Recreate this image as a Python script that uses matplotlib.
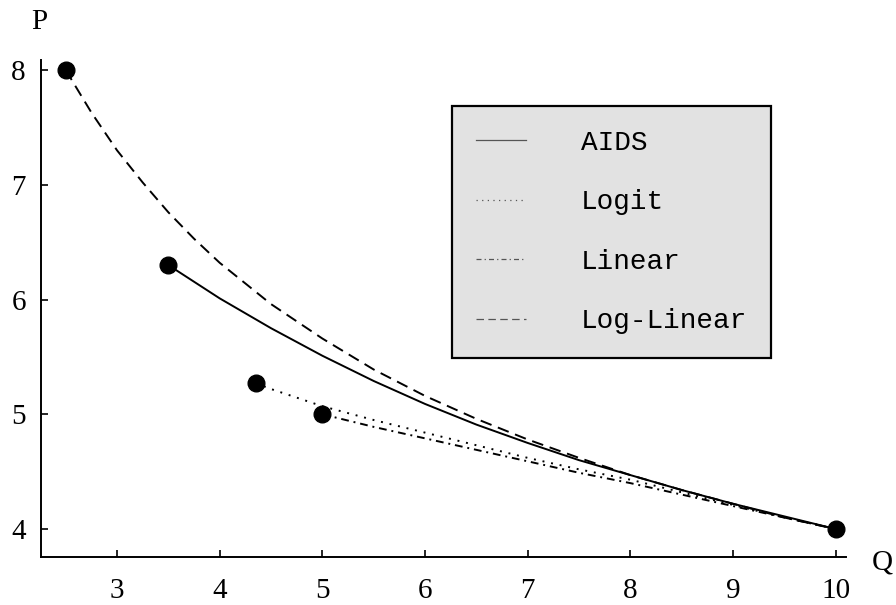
import matplotlib.pyplot as plt

# points
pt_q = [2.5, 3.5, 4.35, 5.0, 10.0]
pt_p = [8.0, 6.3, 5.27, 5.0, 4.0]

# curves (read at regular Q steps)
q_loglin = [2.5, 2.75, 3.0, 3.25, 3.5, 3.75, 4.0, 4.25, 4.5, 5.0, 5.5, 6.0, 6.5, 7.0, 7.5, 8.0, 8.5, 9.0, 9.5, 10.0]
p_loglin = [8.0, 7.63, 7.30, 7.02, 6.76, 6.53, 6.32, 6.14, 5.96, 5.66, 5.39, 5.16, 4.96, 4.78, 4.62, 4.47, 4.34, 4.22, 4.10, 4.0]

q_aids = [3.5, 4.0, 4.5, 5.0, 5.5, 6.0, 6.5, 7.0, 7.5, 8.0, 8.5, 9.0, 9.5, 10.0]
p_aids = [6.30, 6.01, 5.75, 5.51, 5.29, 5.09, 4.91, 4.75, 4.60, 4.47, 4.34, 4.22, 4.11, 4.0]

q_logit = [4.35, 4.5, 5.0, 5.5, 6.0, 6.5, 7.0, 7.5, 8.0, 8.5, 9.0, 9.5, 10.0]
p_logit = [5.27, 5.22, 5.07, 4.95, 4.84, 4.73, 4.62, 4.52, 4.43, 4.32, 4.21, 4.10, 4.0]

q_lin = [5.0, 5.5, 6.0, 6.5, 7.0, 7.5, 8.0, 8.5, 9.0, 9.5, 10.0]
p_lin = [5.0, 4.89, 4.79, 4.69, 4.59, 4.49, 4.40, 4.30, 4.20, 4.10, 4.0]

xticks = [3, 4, 5, 6, 7, 8, 9, 10]
yticks = [4, 5, 6, 7, 8]

plt.rcParams['font.family'] = 'Liberation Serif'

fig = plt.figure(figsize=(8.96, 6.05), dpi=100)
ax = fig.add_axes([0.0458, 0.0793, 0.8984, 0.8215])

lw = 1.4
ax.plot(q_aids, p_aids, color='black', lw=lw, label='AIDS')
ax.plot(q_logit, p_logit, color='black', lw=lw, linestyle=(0, (1, 3.5)), label='Logit')
ax.plot(q_lin, p_lin, color='black', lw=lw, linestyle=(0, (4, 2.5, 1, 2.5)), label='Linear')
ax.plot(q_loglin, p_loglin, color='black', lw=lw, linestyle=(0, (6, 3.5)), label='Log-Linear')
ax.plot(pt_q, pt_p, 'o', color='black', markersize=12, zorder=5)

ax.set_xlim(2.26, 10.1)
ax.set_ylim(3.756, 8.087)
ax.set_xticks(xticks)
ax.set_yticks(yticks)
ax.spines['top'].set_visible(False)
ax.spines['right'].set_visible(False)
ax.spines['left'].set_linewidth(1.4)
ax.spines['bottom'].set_linewidth(1.4)
ax.tick_params(axis='x', direction='in', length=5, width=1.2, labelsize=21, pad=15)
ax.tick_params(axis='y', direction='in', length=5, width=1.2, labelsize=21, pad=11)

fig.text(39 / 896, 1 - 22 / 605, 'P', fontsize=21, ha='center', va='center')
fig.text(882 / 896, 1 - 562 / 605, 'Q', fontsize=21, ha='center', va='center')

leg = ax.legend(loc='upper left', bbox_to_anchor=(0.5106, 0.9074), borderaxespad=0,
                prop={'family': 'Liberation Mono', 'size': 20},
                handlelength=1.8, handletextpad=2.0, borderpad=0.85, labelspacing=1.21,
                fancybox=False, framealpha=1)
frame = leg.get_frame()
frame.set_facecolor('#e2e2e2')
frame.set_edgecolor('black')
frame.set_linewidth(1.6)
for line in leg.get_lines():
    line.set_color('#555555')
    line.set_linewidth(0.9)

fig.savefig('out.png', dpi=100)
